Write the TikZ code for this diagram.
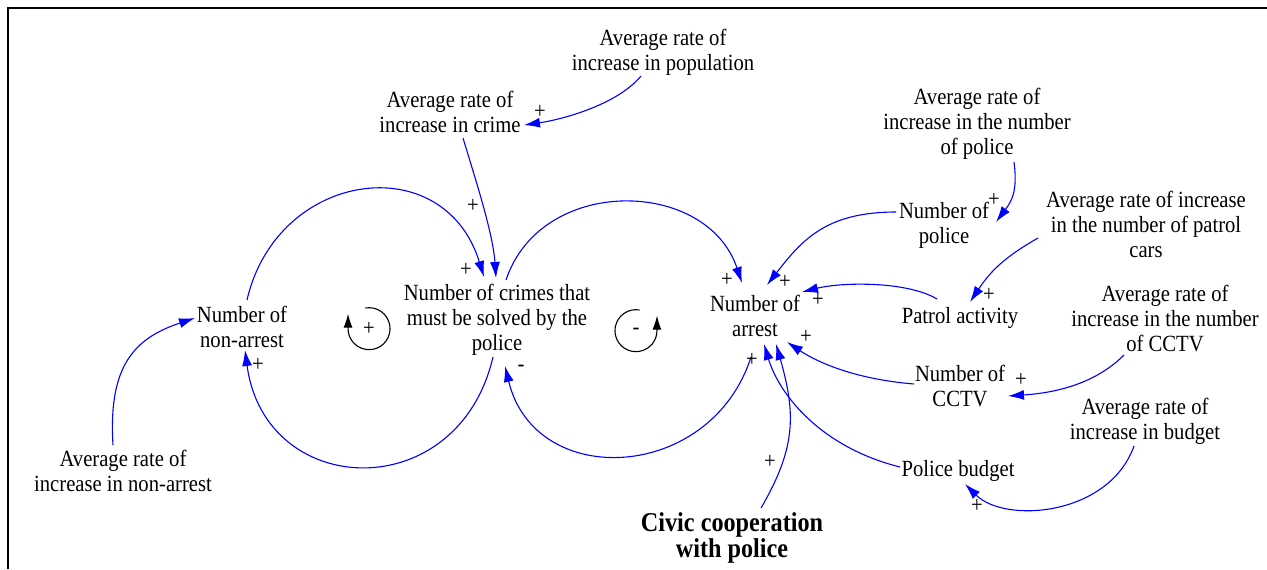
\documentclass[tikz,border=0pt]{standalone}
\usepackage{fontspec}
\setmainfont[FakeStretch=0.89]{Liberation Serif}
\definecolor{linkBlue}{RGB}{0,0,255}
\usetikzlibrary{arrows.meta, calc}

\begin{document}
\begin{tikzpicture}[x=0.5pt, y=-0.5pt,
    var/.style={align=center, inner sep=0pt, font=\fontsize{11.6}{12.5}\selectfont},
    sign/.style={inner sep=0pt, font=\fontsize{11.6}{12.5}\selectfont},
    link/.style={draw=linkBlue, line width=0.55pt, -{Latex[length=8pt, width=5pt]}},
    loopArrow/.style={black, line width=0.55pt, -{Latex[length=7pt, width=4.5pt]}}]

    \useasboundingbox (0,0) rectangle (1267,569);

    % Frame
    \draw[line width=1pt] (8,569) -- (8,8) -- (1267,8);

    % Variables
    \node[var] (popRate) at (663,52) {Average rate of\\increase in population};
    \node[var] (crimeRate) at (450,112) {Average rate of\\increase in crime};
    \node[var] (crimes) at (497,320) {Number of crimes that\\must be solved by the\\police};
    \node[var] (nonArrest) at (242,327) {Number of\\non-arrest};
    \node[var] (nonArrestRate) at (123,471) {Average rate of\\increase in non-arrest};
    \node[var] (arrest) at (755,316) {Number of\\arrest};
    \node[var] (policeRate) at (977,124) {Average rate of\\increase in the number\\of police};
    \node[var] (police) at (944,225) {Number of\\police};
    \node[var] (patrolRate) at (1146,224) {Average rate of increase\\in the number of patrol\\cars};
    \node[var] (patrol) at (960,318) {Patrol activity};
    \node[var] (cctvRate) at (1165,318) {Average rate of\\increase in the number\\of CCTV};
    \node[var] (cctv) at (960,386) {Number of\\CCTV};
    \node[var] (budgetRate) at (1145,421) {Average rate of\\increase in budget};
    \node[var] (budget) at (958,471) {Police budget};
    \node[var, font=\fontsize{13.6}{13.4}\selectfont\bfseries] (civic) at (732,538) {Civic cooperation\\with police};

    % Links
    \draw[link] ($(popRate)+(-22,24)$) .. controls +(-25,30) and +(35,-5) .. ($(crimeRate)+(74,13)$);
    \draw[link] ($(crimeRate)+(13,26)$) .. controls +(12,40) and +(-3,-45) .. ($(crimes)+(-1,-42)$);
    \draw[link] ($(nonArrest)+(5,-27)$) .. controls +(30,-130) and +(-40,-130) .. ($(crimes)+(-13,-43)$);
    \draw[link] ($(crimes)+(-4,37)$) .. controls +(-35,150) and +(20,150) .. ($(nonArrest)+(3,23)$);
    \draw[link] ($(crimes)+(9,-40)$) .. controls +(35,-105) and +(-35,-105) .. ($(arrest)+(-13,-33)$);
    \draw[link] ($(arrest)+(-4,41)$) .. controls +(-40,125) and +(30,125) .. ($(crimes)+(8,46)$);
    \draw[link] ($(police)+(-48,-13)$) .. controls +(-70,0) and +(35,-45) .. ($(arrest)+(12,-31)$);
    \draw[link] ($(policeRate)+(37,38)$) .. controls +(4,30) and +(15,-20) .. ($(police)+(52,-3)$);
    \draw[link] ($(patrol)+(-23,-19)$) .. controls +(-30,-18) and +(40,-10) .. ($(arrest)+(47,-24)$);
    \draw[link] ($(patrolRate)+(-108,14)$) .. controls +(-35,20) and +(20,-30) .. ($(patrol)+(10,-16)$);
    \draw[link] ($(cctv)+(-46,-2)$) .. controls +(-60,-5) and +(30,20) .. ($(arrest)+(32,26)$);
    \draw[link] ($(cctvRate)+(-41,37)$) .. controls +(-30,30) and +(45,-3) .. ($(cctv)+(48,10)$);
    \draw[link] ($(budget)+(-58,-4)$) .. controls +(-80,-20) and +(15,50) .. ($(arrest)+(9,28)$);
    \draw[link] ($(civic)+(29,-30)$) .. controls +(35,-60) and +(20,70) .. ($(arrest)+(21,28)$);
    \draw[link] ($(nonArrestRate)+(-10,-26)$) .. controls +(-5,-80) and +(-60,20) .. ($(nonArrest)+(-47,-9)$);
    \draw[link] ($(budgetRate)+(-11,25)$) .. controls +(-25,70) and +(40,40) .. ($(budget)+(7,13)$);

    % Polarities
    \node[sign] (sPop) at (540,112) {+};
    \node[sign] (sCrimeRate) at (473,206) {+};
    \node[sign] (sNonArrest) at (466,270) {+};
    \node[sign] (sCrimesNA) at (258,365) {+};
    \node[sign] (sCrimesAr) at (727,280) {+};
    \node[sign] (sArrestCr) at (521,368) {-};
    \node[sign] (sPolice) at (785,282) {+};
    \node[sign] (sPoliceRate) at (994,200) {+};
    \node[sign] (sPatrol) at (818,300) {+};
    \node[sign] (sPatrolRate) at (989,295) {+};
    \node[sign] (sCctv) at (806,337) {+};
    \node[sign] (sCctvRate) at (1021,380) {+};
    \node[sign] (sBudget) at (752,360) {+};
    \node[sign] (sCivic) at (770,462) {+};
    \node[sign] (sBudgetRate) at (977,506) {+};

    % Loops
    \node[sign] (loopPos) at (369,329) {+};
    \draw[loopArrow] ($(loopPos)+(-3.6,-21)$) arc[start angle=-100, end angle=180, radius=21] -- ++(0,-15);
    \node[sign] (loopNeg) at (636,331) {-};
    \draw[loopArrow] ($(loopNeg)+(3.6,-21)$) arc[start angle=-80, end angle=-360, radius=21] -- ++(0,-15);
\end{tikzpicture}
\end{document}
